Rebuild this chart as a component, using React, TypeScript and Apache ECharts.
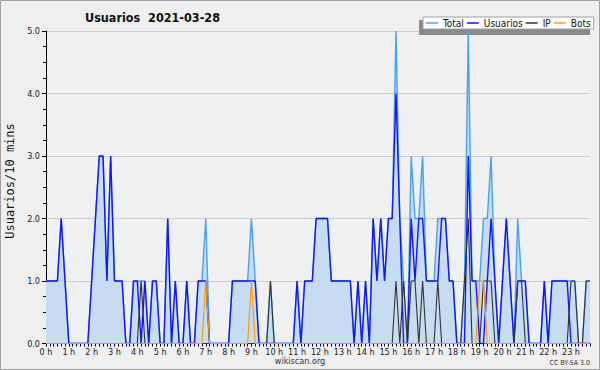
import React, { useEffect, useRef } from "react";
import * as echarts from "echarts";

// Hour tick labels (one per 6 ten-minute bins)
const hourLabels = [
  "0 h", "1 h", "2 h", "3 h", "4 h", "5 h", "6 h", "7 h", "8 h", "9 h", "10 h", "11 h",
  "12 h", "13 h", "14 h", "15 h", "16 h", "17 h", "18 h", "19 h", "20 h", "21 h", "22 h", "23 h",
];
const binMinutes = ["00", "10", "20", "30", "40", "50"];

// Values per 10-minute bin (6 per hour)
const total = [
  1, 1, 1, 1, 2, 1, /* 0h */ 0, 0, 0, 0, 0, 0, /* 1h */ 1, 2, 3, 3, 1, 3, /* 2h */
  1, 1, 1, 0, 0, 1, /* 3h */ 1, 1, 1, 0, 1, 1, /* 4h */ 0, 0, 2, 0, 1, 0, /* 5h */
  0, 1, 0, 0, 1, 1, /* 6h */ 2, 0, 0, 0, 0, 0, /* 7h */ 0, 1, 1, 1, 1, 1, /* 8h */
  2, 1, 0, 0, 0, 1, /* 9h */ 0, 0, 0, 0, 0, 0, /* 10h */ 1, 0, 1, 1, 1, 2, /* 11h */
  2, 2, 2, 1, 1, 1, /* 12h */ 1, 1, 1, 0, 1, 0, /* 13h */ 1, 0, 2, 1, 2, 1, /* 14h */
  2, 2, 5, 2, 1, 0, /* 15h */ 3, 2, 2, 3, 1, 1, /* 16h */ 1, 2, 2, 2, 1, 1, /* 17h */
  0, 0, 1, 5, 1, 1, /* 18h */ 1, 2, 2, 3, 1, 0, /* 19h */ 1, 2, 1, 0, 2, 1, /* 20h */
  1, 0, 0, 0, 0, 1, /* 21h */ 0, 1, 1, 1, 1, 1, /* 22h */ 1, 1, 0, 0, 1, 1, /* 23h */
];
const usuarios = [
  1, 1, 1, 1, 2, 1, 0, 0, 0, 0, 0, 0, 1, 2, 3, 3, 1, 3,
  1, 1, 1, 0, 0, 1, 1, 0, 1, 0, 1, 1, 0, 0, 2, 0, 1, 0,
  0, 1, 0, 0, 1, 1, 1, 0, 0, 0, 0, 0, 0, 1, 1, 1, 1, 1,
  1, 1, 0, 0, 0, 0, 0, 0, 0, 0, 0, 0, 1, 0, 1, 1, 1, 2,
  2, 2, 2, 1, 1, 1, 1, 1, 1, 0, 1, 0, 1, 0, 2, 1, 2, 1,
  2, 2, 4, 2, 0, 0, 2, 1, 2, 2, 1, 1, 1, 1, 2, 2, 1, 1,
  0, 0, 0, 3, 1, 1, 0, 0, 1, 2, 1, 0, 1, 2, 1, 0, 1, 1,
  1, 0, 0, 0, 0, 1, 0, 1, 1, 1, 1, 1, 0, 0, 0, 0, 0, 0,
];
const ip = [
  0, 0, 0, 0, 0, 0, 0, 0, 0, 0, 0, 0, 0, 0, 0, 0, 0, 0,
  0, 0, 0, 0, 0, 0, 0, 1, 0, 0, 0, 0, 0, 0, 0, 0, 0, 0,
  0, 0, 0, 0, 0, 0, 0, 0, 0, 0, 0, 0, 0, 0, 0, 0, 0, 0,
  0, 0, 0, 0, 0, 1, 0, 0, 0, 0, 0, 0, 0, 0, 0, 0, 0, 0,
  0, 0, 0, 0, 0, 0, 0, 0, 0, 0, 0, 0, 0, 0, 0, 0, 0, 0,
  0, 0, 1, 0, 1, 0, 1, 1, 0, 1, 0, 0, 0, 1, 0, 0, 0, 0,
  0, 0, 1, 2, 0, 0, 0, 1, 1, 1, 0, 0, 0, 0, 0, 0, 1, 1,
  0, 0, 0, 0, 0, 0, 0, 0, 0, 0, 0, 0, 1, 1, 0, 0, 1, 1,
];
const bots = [
  0, 0, 0, 0, 0, 0, 0, 0, 0, 0, 0, 0, 0, 0, 0, 0, 0, 0,
  0, 0, 0, 0, 0, 0, 0, 0, 0, 0, 0, 0, 0, 0, 0, 0, 0, 0,
  0, 0, 0, 0, 0, 0, 1, 0, 0, 0, 0, 0, 0, 0, 0, 0, 0, 0,
  1, 0, 0, 0, 0, 0, 0, 0, 0, 0, 0, 0, 0, 0, 0, 0, 0, 0,
  0, 0, 0, 0, 0, 0, 0, 0, 0, 0, 0, 0, 0, 0, 0, 0, 0, 0,
  0, 0, 0, 0, 0, 0, 0, 0, 0, 0, 0, 0, 0, 0, 0, 0, 0, 0,
  0, 0, 0, 0, 0, 0, 1, 1, 0, 0, 0, 0, 0, 0, 0, 0, 0, 0,
  0, 0, 0, 0, 0, 0, 0, 0, 0, 0, 0, 0, 0, 0, 0, 0, 0, 0,
];

const F = '"DejaVu Sans Condensed", "DejaVu Sans", sans-serif';

export default function App() {
  const ref = useRef<HTMLDivElement>(null);

  useEffect(() => {
    const chart = echarts.init(ref.current!, null, { renderer: "svg" });
    const categories: string[] = [];
    hourLabels.forEach((_, h) => {
      binMinutes.forEach((m) => categories.push(`${h}:${m}`));
    });

    const lineSeries = (name: string, data: number[], color: string, width: number, z: number, area?: string) => ({
      name,
      type: "line",
      data,
      symbol: "none",
      z,
      color,
      lineStyle: { color, width },
      areaStyle: area ? { color: area, opacity: 1 } : undefined,
      emphasis: { disabled: true },
    });

    chart.setOption({
      animation: false,
      backgroundColor: "#efefef",
      grid: {
        left: 46,
        right: 10,
        top: 31,
        bottom: 26.5,
        show: true,
        backgroundColor: "#eef0f2",
        borderWidth: 0,
      },
      legend: {
        left: 423,
        top: 17,
        padding: [1, 3, 1, 3],
        itemGap: 3,
        itemWidth: 12,
        itemHeight: 1.5,
        icon: "rect",
        backgroundColor: "#ffffff",
        borderColor: "#a0a0a0",
        borderWidth: 1,
        borderRadius: 0,
        z: 10,
        textStyle: { fontFamily: F, fontSize: 10, color: "#111" },
        data: ["Total", "Usuarios", "IP", "Bots"],
      },
      xAxis: {
        type: "category",
        data: categories,
        boundaryGap: false,
        axisLine: { lineStyle: { color: "#000", width: 1 } },
        axisTick: { show: true, interval: 0, length: 3, lineStyle: { color: "#000" } },
        axisLabel: {
          interval: (i: number) => i % 6 === 0,
          formatter: (_v: string, i: number) => hourLabels[Math.floor(i / 6)],
          fontFamily: F,
          fontSize: 9,
          color: "#222",
          margin: 4,
        },
        splitLine: { show: false },
      },
      yAxis: {
        type: "value",
        min: 0,
        max: 5,
        interval: 1,
        axisLine: { show: true, lineStyle: { color: "#000", width: 1 } },
        axisTick: { show: true, length: 4, lineStyle: { color: "#000" } },
        minorTick: { show: true, splitNumber: 4, length: 3, lineStyle: { color: "#000" } },
        axisLabel: {
          formatter: (v: number) => v.toFixed(1),
          fontFamily: F,
          fontSize: 9,
          color: "#222",
          margin: 6,
        },
        splitLine: { show: true, lineStyle: { color: "#cfcfcf", width: 1 } },
      },
      series: [
        lineSeries("Total", total, "#4aa2ee", 1.4, 2, "#c6dcf0"),
        lineSeries("Usuarios", usuarios, "#1414ff", 1.4, 3),
        lineSeries("IP", ip, "#333333", 1.1, 4),
        lineSeries("Bots", bots, "#ff9a00", 1.1, 5),
      ],
      graphic: [
        {
          type: "rect",
          silent: true,
          z: -10,
          shape: { x: 0.5, y: 0.5, width: 599, height: 369 },
          style: { fill: "none", stroke: "#a0a0a0", lineWidth: 1 },
        },
        {
          type: "rect",
          silent: true,
          z: 1,
          shape: { x: 419, y: 20, width: 171, height: 15 },
          style: { fill: "#8a8a8a" },
        },
        {
          type: "text",
          x: 85,
          y: 17,
          style: {
            text: "Usuarios  2021-03-28",
            font: `bold 12.5px ${F}`,
            fill: "#111",
            textAlign: "left",
            textVerticalAlign: "middle",
          },
        },
        {
          type: "text",
          x: 10,
          y: 181,
          rotation: Math.PI / 2,
          style: {
            text: "Usuarios/10 mins",
            font: '12px "DejaVu Sans Mono", monospace',
            fill: "#111",
            textAlign: "center",
            textVerticalAlign: "middle",
          },
        },
        {
          type: "text",
          x: 300,
          y: 361,
          style: {
            text: "wikiscan.org",
            font: `9px ${F}`,
            fill: "#333",
            textAlign: "center",
            textVerticalAlign: "middle",
          },
        },
        {
          type: "text",
          x: 590,
          y: 363,
          style: {
            text: "CC BY-SA 3.0",
            font: `7px ${F}`,
            fill: "#333",
            textAlign: "right",
            textVerticalAlign: "middle",
          },
        },
      ],
    });

    return () => chart.dispose();
  }, []);

  return (
    <div
      ref={ref}
      style={{ position: "fixed", left: 0, top: 0, width: 600, height: 370 }}
    />
  );
}
